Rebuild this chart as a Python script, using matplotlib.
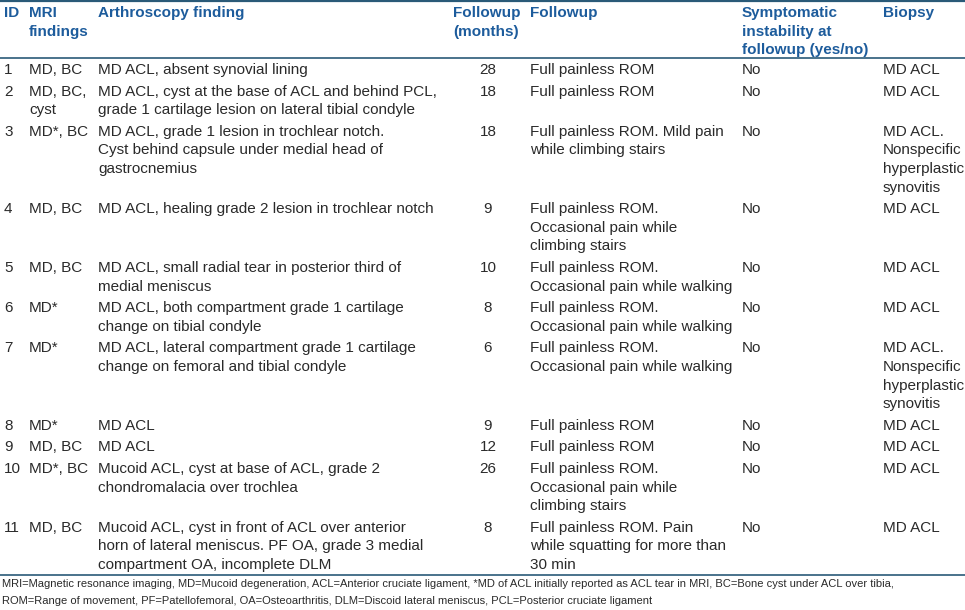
import matplotlib
matplotlib.use("Agg")
import matplotlib.pyplot as plt

# ---------------- data ----------------
headers = [
    "ID",
    "MRI\nfindings",
    "Arthroscopy finding",
    "Followup\n(months)",
    "Followup",
    "Symptomatic\ninstability at\nfollowup (yes/no)",
    "Biopsy",
]

ids = ["1", "2", "3", "4", "5", "6", "7", "8", "9", "10", "11"]

mri = ["MD, BC", "MD, BC,\ncyst", "MD*, BC", "MD, BC", "MD, BC", "MD*", "MD*",
       "MD*", "MD, BC", "MD*, BC", "MD, BC"]

arthroscopy = [
    "MD ACL, absent synovial lining",
    "MD ACL, cyst at the base of ACL and behind PCL,\ngrade 1 cartilage lesion on lateral tibial condyle",
    "MD ACL, grade 1 lesion in trochlear notch.\nCyst behind capsule under medial head of\ngastrocnemius",
    "MD ACL, healing grade 2 lesion in trochlear notch",
    "MD ACL, small radial tear in posterior third of\nmedial meniscus",
    "MD ACL, both compartment grade 1 cartilage\nchange on tibial condyle",
    "MD ACL, lateral compartment grade 1 cartilage\nchange on femoral and tibial condyle",
    "MD ACL",
    "MD ACL",
    "Mucoid ACL, cyst at base of ACL, grade 2\nchondromalacia over trochlea",
    "Mucoid ACL, cyst in front of ACL over anterior\nhorn of lateral meniscus. PF OA, grade 3 medial\ncompartment OA, incomplete DLM",
]

followup_months = [28, 18, 18, 9, 10, 8, 6, 9, 12, 26, 8]

followup = [
    "Full painless ROM",
    "Full painless ROM",
    "Full painless ROM. Mild pain\nwhile climbing stairs",
    "Full painless ROM.\nOccasional pain while\nclimbing stairs",
    "Full painless ROM.\nOccasional pain while walking",
    "Full painless ROM.\nOccasional pain while walking",
    "Full painless ROM.\nOccasional pain while walking",
    "Full painless ROM",
    "Full painless ROM",
    "Full painless ROM.\nOccasional pain while\nclimbing stairs",
    "Full painless ROM. Pain\nwhile squatting for more than\n30 min",
]

instability = ["No"] * 11

biopsy = [
    "MD ACL",
    "MD ACL",
    "MD ACL.\nNonspecific\nhyperplastic\nsynovitis",
    "MD ACL",
    "MD ACL",
    "MD ACL",
    "MD ACL.\nNonspecific\nhyperplastic\nsynovitis",
    "MD ACL",
    "MD ACL",
    "MD ACL",
    "MD ACL",
]

footnote = [
    "MRI=Magnetic resonance imaging, MD=Mucoid degeneration, ACL=Anterior cruciate ligament, "
    "*MD of ACL initially reported as ACL tear in MRI, BC=Bone cyst under ACL over tibia,",
    "ROM=Range of movement, PF=Patellofemoral, OA=Osteoarthritis, DLM=Discoid lateral meniscus, "
    "PCL=Posterior cruciate ligament",
]

# ---------------- layout / style ----------------
W, H = 965, 610
FONT = "Liberation Sans"
BODY_SIZE = 11
HEAD_SIZE = 11
FOOT_SIZE = 8.0
HEAD_COLOR = "#1d5c9c"
BODY_COLOR = "#2a2a2a"
RULE_COLOR = "#2a5a78"
LINE_H = 18.6
ROW_PAD = 3.0

col_x = [4, 29, 98, 488, 530, 742, 883]
col_ha = ["left", "left", "left", "center", "left", "left", "left"]

fig = plt.figure(figsize=(W / 100, H / 100), dpi=100)
ax = fig.add_axes([0, 0, 1, 1])
ax.set_xlim(0, W)
ax.set_ylim(H, 0)
ax.axis("off")


def draw_cell(x, y0, text, ha, size, color, weight="normal"):
    for i, line in enumerate(str(text).split("\n")):
        ax.text(x, y0 + i * LINE_H, line, ha=ha, va="center", fontsize=size,
                color=color, fontweight=weight, family=FONT)


# header
header_y = 13
for x, ha, h in zip(col_x, col_ha, headers):
    hx = x if ha == "left" else 453
    draw_cell(hx, header_y, h, "left", HEAD_SIZE, HEAD_COLOR, weight="bold")

top_rule = 1
head_rule = 58
ax.axhline(top_rule, color=RULE_COLOR, lw=1.6)
ax.axhline(head_rule, color=RULE_COLOR, lw=1.2)

# body
columns = [ids, mri, arthroscopy, [str(v) for v in followup_months], followup,
           instability, biopsy]
row_top = head_rule
for r in range(len(ids)):
    cells = [c[r] for c in columns]
    nlines = max(len(str(c).split("\n")) for c in cells)
    y0 = row_top + 12
    for x, ha, c in zip(col_x, col_ha, cells):
        draw_cell(x, y0, c, ha, BODY_SIZE, BODY_COLOR)
    row_top += nlines * LINE_H + ROW_PAD

bottom_rule = row_top
ax.axhline(bottom_rule, color=RULE_COLOR, lw=1.2)

# footnote
for i, line in enumerate(footnote):
    ax.text(2, bottom_rule + 9 + i * 17, line, ha="left", va="center",
            fontsize=FOOT_SIZE, color=BODY_COLOR, family=FONT)

fig.savefig("out.png", dpi=100, facecolor="white")
